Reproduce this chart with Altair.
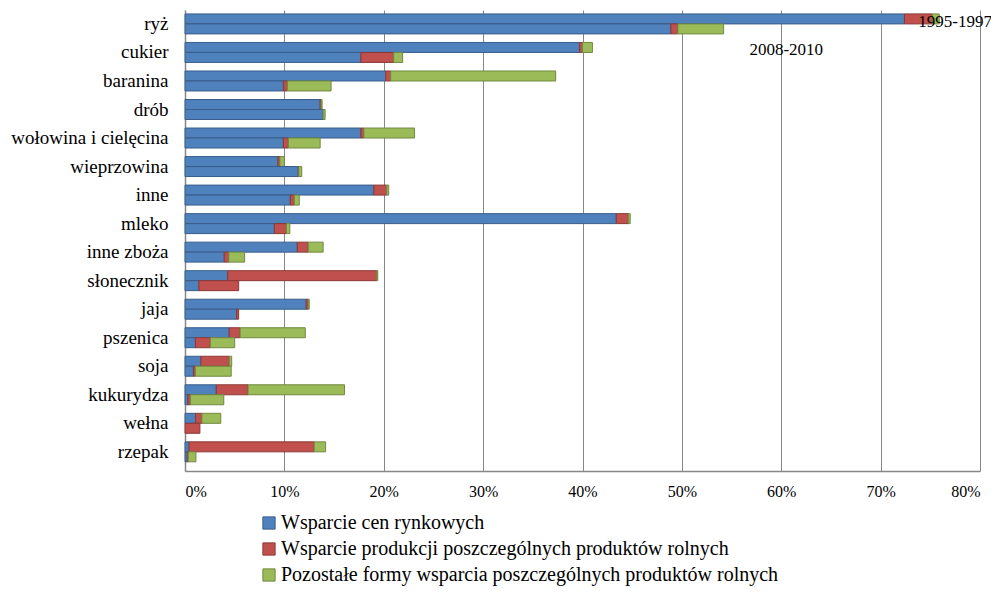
import altair as alt
import pandas as pd

categories = ["ryż", "cukier", "baranina", "drób", "wołowina i cielęcina", "wieprzowina",
              "inne", "mleko", "inne zboża", "słonecznik", "jaja", "pszenica", "soja",
              "kukurydza", "wełna", "rzepak"]
periods = ["1995-1997", "2008-2010"]
series = ["Wsparcie cen rynkowych",
          "Wsparcie produkcji poszczególnych produktów rolnych",
          "Pozostałe formy wsparcia poszczególnych produktów rolnych"]

# values in percent
market_9597 = [72.4, 39.7, 20.2, 13.6, 17.7, 9.35, 19.0, 43.4, 11.3, 4.3, 12.2, 4.45, 1.6, 3.15, 1.07, 0.4]
prod_9597 = [2.8, 0.3, 0.5, 0.1, 0.3, 0.2, 1.3, 1.2, 1.1, 15.0, 0.2, 1.1, 2.85, 3.2, 0.63, 12.6]
other_9597 = [0.7, 1.0, 16.6, 0.1, 5.1, 0.45, 0.2, 0.2, 1.5, 0.1, 0.1, 6.55, 0.25, 9.7, 1.9, 1.15]

market_0810 = [48.9, 17.7, 9.9, 13.9, 9.9, 11.4, 10.6, 9.0, 3.95, 1.4, 5.2, 1.05, 0.85, 0.3, 0.0, 0.23]
prod_0810 = [0.7, 3.3, 0.4, 0.0, 0.5, 0.05, 0.4, 1.2, 0.45, 4.0, 0.2, 1.5, 0.2, 0.25, 1.5, 0.1]
other_0810 = [4.6, 0.9, 4.4, 0.2, 3.2, 0.3, 0.5, 0.35, 1.6, 0.0, 0.0, 2.45, 3.6, 3.35, 0.0, 0.77]

fills = ["#4F81BD", "#C0504D", "#9BBB59"]
strokes = ["#385D8A", "#8C3836", "#71893F"]
FONT = "Liberation Serif"

rows = []
data_by_period = {
    periods[0]: [market_9597, prod_9597, other_9597],
    periods[1]: [market_0810, prod_0810, other_0810],
}
for p, lists in data_by_period.items():
    for si, vals in enumerate(lists):
        for c, v in zip(categories, vals):
            if v > 0:
                rows.append({"kategoria": c, "okres": p, "seria": series[si],
                             "idx": si, "wartosc": v / 100.0})
df = pd.DataFrame(rows)

xscale = alt.Scale(domain=[0, 0.8], nice=False)

legend_cfg = dict(title=None, orient="none", legendX=74, legendY=503,
                  direction="vertical", symbolType="square",
                  symbolSize=150, symbolStrokeWidth=1,
                  labelFont=FONT, labelFontSize=20, labelColor="#000000",
                  labelOffset=2, rowPadding=6, labelLimit=900)

bars = alt.Chart(df).mark_bar(strokeWidth=1).encode(
    x=alt.X("wartosc:Q", stack="zero", scale=xscale,
            axis=alt.Axis(format=".0%", values=[0, 0.1, 0.2, 0.3, 0.4, 0.5, 0.6, 0.7, 0.8],
                          title=None, ticks=False, labelFontSize=16, labelFont=FONT,
                          labelColor="#000000", labelPadding=12,
                          grid=True, gridColor="#878787", gridWidth=1,
                          domainColor="#878787", domainWidth=1.5)),
    y=alt.Y("kategoria:N", sort=categories,
            scale=alt.Scale(paddingInner=0.3, paddingOuter=0.23, align=0.3),
            axis=alt.Axis(title=None, ticks=False, labelFontSize=19, labelFont=FONT,
                          labelColor="#000000", labelPadding=17,
                          domainColor="#878787", domainWidth=1.5)),
    yOffset=alt.YOffset("okres:N", sort=periods,
                        scale=alt.Scale(paddingInner=0, paddingOuter=0)),
    fill=alt.Fill("seria:N", sort=series,
                  scale=alt.Scale(domain=series, range=fills),
                  legend=alt.Legend(**legend_cfg)),
    stroke=alt.Stroke("seria:N", sort=series,
                      scale=alt.Scale(domain=series, range=strokes),
                      legend=alt.Legend(**legend_cfg)),
    order=alt.Order("idx:Q"),
)

ann_text = ["1995-1997", "2008-2010"]
ann_x = [0.775, 0.605]
ann_y = [12, 40]
ann_df = pd.DataFrame({"t": ann_text, "x": ann_x, "yy": ann_y})

ann = alt.Chart(ann_df).mark_text(font=FONT, fontSize=17, color="#000000",
                                  align="center", baseline="middle").encode(
    x=alt.X("x:Q", scale=xscale),
    y=alt.Y("yy:Q", scale=None),
    text="t:N",
)

chart = alt.layer(bars, ann).properties(
    width=795, height=461,
    autosize=alt.AutoSizeParams(type="none"),
    padding={"left": 177, "top": 2, "right": 11, "bottom": 115},
).configure(
    background="#ffffff", font=FONT
).configure_view(stroke=None).configure_axis(
    labelFont=FONT
).configure_legend(
    labelFont=FONT
).configure_text(font=FONT)

chart.save("out.html", embed_options={"renderer": "svg", "actions": False})
